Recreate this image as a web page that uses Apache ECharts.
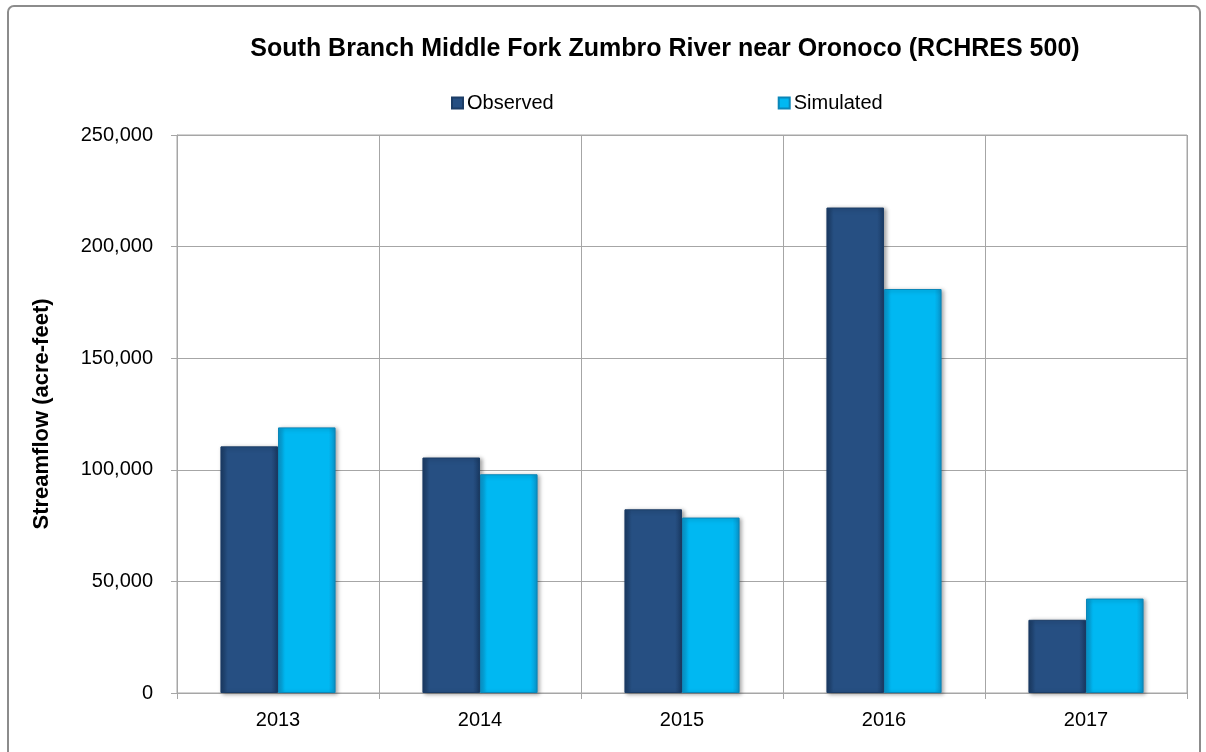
<!DOCTYPE html>
<html><head><meta charset="utf-8">
<script src="https://cdn.jsdelivr.net/npm/echarts@6/dist/echarts.min.js"></script>
<style>html,body{margin:0;padding:0;background:#fff}#c{width:1206px;height:752px}</style>
</head><body><div id="c"></div>
<script>
const categories = ['2013','2014','2015','2016','2017'];
const observed = [110500, 105500, 82300, 217500, 32800];
const simulated = [119000, 98000, 78600, 181000, 42300];
const seriesNames = ['Observed','Simulated'];
const titleText = 'South Branch Middle Fork Zumbro River near Oronoco (RCHRES 500)';
const yAxisName = 'Streamflow (acre-feet)';

const FONT = '"Liberation Sans Narrow","Arial Narrow","Liberation Sans",Arial,sans-serif';
function grad(dark, mid){
  return new echarts.graphic.LinearGradient(0,0,1,0,[
    {offset:0,color:dark},{offset:0.12,color:mid},{offset:0.88,color:mid},{offset:1,color:dark}
  ]);
}
const chart = echarts.init(document.getElementById('c'));
chart.setOption({
  animation:false,
  backgroundColor:'#fff',
  graphic:[{type:'rect',shape:{x:8,y:6,width:1192,height:760,r:6},style:{fill:'none',stroke:'#8c8c8c',lineWidth:2},silent:true}],
  title:{text:titleText,left:660,top:32,textAlign:'center',
    textStyle:{fontFamily:FONT,fontSize:25,fontWeight:'bold',color:'#000'}},
  legend:{data:seriesNames,top:88,left:446,itemGap:224,itemWidth:11,itemHeight:11,icon:'rect',
    textStyle:{fontFamily:FONT,fontSize:20,color:'#000',padding:[0,0,0,-1]}},
  grid:{left:177,right:19,top:135,bottom:59,show:true,borderColor:'#a6a6a6',borderWidth:1},
  xAxis:{type:'category',data:categories,
    axisLine:{lineStyle:{color:'#a6a6a6'}},
    axisTick:{show:true,length:6,lineStyle:{color:'#a6a6a6'}},
    splitLine:{show:true,lineStyle:{color:'#a6a6a6',width:1}},
    axisLabel:{fontFamily:FONT,fontSize:20,color:'#000',margin:17}},
  yAxis:{type:'value',min:0,max:250000,interval:50000,
    name:yAxisName,nameLocation:'middle',nameGap:124,nameRotate:90,
    nameTextStyle:{fontFamily:FONT,fontSize:22,fontWeight:'bold',color:'#000'},
    axisLine:{show:true,lineStyle:{color:'#a6a6a6'}},
    axisTick:{show:true,length:6,inside:false,lineStyle:{color:'#a6a6a6'}},
    splitLine:{show:true,lineStyle:{color:'#a6a6a6',width:1}},
    axisLabel:{fontFamily:FONT,fontSize:20,color:'#000',margin:24,
      formatter:v=>v.toLocaleString('en-US')}},
  series:[
    {name:seriesNames[0],type:'bar',data:observed,barGap:'0%',barCategoryGap:'43%',
      itemStyle:{color:grad('#1a3a63','#264f82'),borderColor:'#1c3d66',borderWidth:1,
        shadowColor:'rgba(0,0,0,0.35)',shadowBlur:4,shadowOffsetX:2,shadowOffsetY:1}},
    {name:seriesNames[1],type:'bar',data:simulated,
      itemStyle:{color:grad('#0a93c9','#00b8f2'),borderColor:'#0b86b8',borderWidth:1,
        shadowColor:'rgba(0,0,0,0.35)',shadowBlur:4,shadowOffsetX:2,shadowOffsetY:1}}
  ]
});
</script></body></html>
